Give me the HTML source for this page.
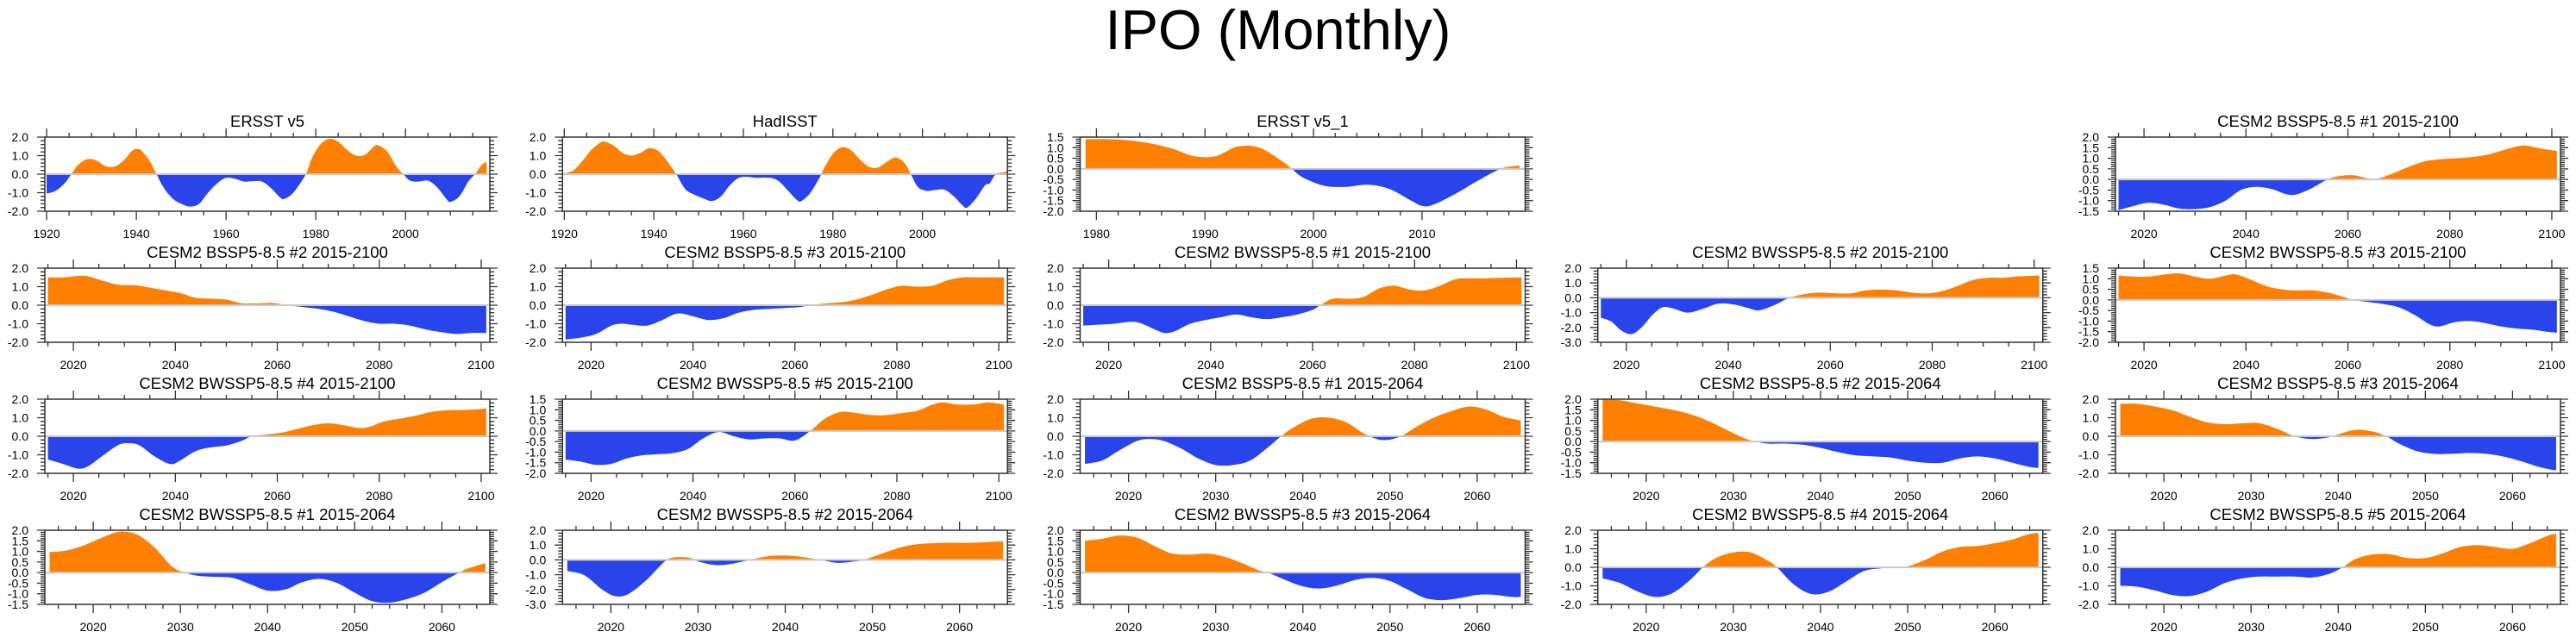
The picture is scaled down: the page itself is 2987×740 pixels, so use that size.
<!DOCTYPE html>
<html><head><meta charset="utf-8">
<style>
html,body{margin:0;padding:0;background:#fff;}
svg{display:block;font-family:"Liberation Sans",Arial,sans-serif;}
</style></head>
<body>
<svg id="chart" width="2987" height="740" viewBox="0 0 2987 740" xmlns="http://www.w3.org/2000/svg">
<rect x="0" y="0" width="2987" height="740" fill="#fff"/>
<text x="1482" y="57" font-size="65" text-anchor="middle" fill="#000">IPO (Monthly)</text>
</svg>
<script>
// ---- data (years / values per panel) ----
const ersstYears=[1920,1922,1924,1925.5,1927,1929,1931,1933,1935,1937,1939,1940,1941,1943,1944.5,1946,1948,1950,1952,1954,1956,1958,1960,1962,1964,1966,1968,1970,1972,1973,1975,1977.8,1979,1981,1983,1985,1987,1989,1991,1993,1994,1996,1998,1999.5,2001,2003,2005,2007,2009,2010,2012,2014,2015.5,2017,2018.1];
const ersstVals=[-1.05,-0.9,-0.5,0,0.5,0.8,0.75,0.45,0.4,0.7,1.25,1.35,1.3,0.7,0,-0.7,-1.3,-1.6,-1.75,-1.6,-1.0,-0.5,-0.2,-0.25,-0.4,-0.38,-0.4,-0.75,-1.25,-1.33,-1.0,0,0.8,1.6,1.9,1.75,1.3,1.0,1.05,1.5,1.55,1.2,0.4,0,-0.35,-0.4,-0.35,-0.7,-1.3,-1.5,-1.2,-0.4,0,0.5,0.65];
const hadYears=[1920,1922,1924,1926,1928,1929,1931,1933,1935,1937,1939,1941,1943,1945,1947,1949,1951,1953,1955,1957,1959,1961,1963,1966,1968,1970,1972,1973,1975,1977,1978,1980,1982,1984,1986,1988,1990,1992,1994,1996,1997.4,1999,2001,2003,2005,2007,2009,2010,2012,2014,2015,2016.4,2018,2019];
const hadVals=[0.05,0.2,0.7,1.3,1.7,1.75,1.55,1.15,1.0,1.15,1.4,1.25,0.7,0,-0.8,-1.1,-1.3,-1.45,-1.2,-0.6,-0.2,-0.15,-0.2,-0.2,-0.4,-0.9,-1.4,-1.45,-1.0,-0.2,0.3,1.1,1.45,1.3,0.8,0.4,0.35,0.65,0.9,0.6,0,-0.7,-0.9,-0.85,-0.85,-1.2,-1.7,-1.8,-1.3,-0.6,-0.5,0,0.1,0.15];
const ersst1Years=[1979,1981,1983,1985,1987,1989,1991,1993,1995,1997,1998,1999,2001,2003,2005,2007,2009,2010,2011,2013,2015,2017,2018,2019];
const ersst1Vals=[1.4,1.4,1.35,1.2,0.95,0.6,0.6,1.05,1.0,0.4,0,-0.4,-0.8,-0.85,-0.75,-0.95,-1.5,-1.75,-1.7,-1.2,-0.6,-0.05,0.1,0.15];

const b1LongYears=[2015,2018,2021,2024,2027,2030,2033,2036,2039,2042,2045,2048,2050,2053,2056,2058,2061,2064,2066,2069,2072,2075,2078,2081,2084,2087,2090,2093,2095,2098,2101];
const b1LongVals=[-1.45,-1.25,-1.1,-1.2,-1.38,-1.4,-1.3,-1.0,-0.5,-0.35,-0.45,-0.7,-0.7,-0.4,0,0.15,0.2,0.05,0.05,0.3,0.6,0.85,0.95,1.0,1.05,1.15,1.35,1.55,1.6,1.45,1.35];
const b2LongYears=[2015,2018,2021,2023,2026,2029,2032,2035,2038,2041,2044,2047,2050,2053,2056,2059,2062,2065,2068,2071,2074,2077,2080,2083,2086,2089,2092,2095,2098,2101];
const b2LongVals=[1.5,1.5,1.58,1.55,1.3,1.1,1.08,0.95,0.8,0.65,0.4,0.35,0.3,0.1,0.1,0.12,0,-0.1,-0.2,-0.35,-0.6,-0.85,-1.0,-1.0,-1.1,-1.3,-1.45,-1.55,-1.5,-1.5];
const b3LongYears=[2015,2018,2021,2024,2026,2028,2031,2034,2037,2040,2043,2046,2049,2052,2055,2058,2061,2063,2066,2069,2072,2075,2078,2081,2084,2087,2090,2093,2096,2099,2101];
const b3LongVals=[-1.85,-1.75,-1.55,-1.1,-1.0,-1.05,-1.1,-0.8,-0.45,-0.6,-0.8,-0.7,-0.4,-0.25,-0.2,-0.15,-0.1,0,0.1,0.15,0.3,0.55,0.85,1.05,1.0,1.05,1.35,1.5,1.5,1.5,1.5];
const w1LongYears=[2015,2018,2021,2024,2026,2029,2031,2033,2036,2039,2042,2045,2048,2051,2054,2057,2060,2061.5,2064,2067,2070,2073,2076,2079,2082,2085,2088,2091,2094,2097,2101];
const w1LongVals=[-1.1,-1.05,-1.0,-0.9,-0.95,-1.3,-1.5,-1.4,-1.0,-0.8,-0.65,-0.5,-0.65,-0.75,-0.65,-0.5,-0.25,0,0.35,0.35,0.45,0.9,1.05,0.85,0.8,1.05,1.4,1.45,1.45,1.48,1.5];
const w2LongYears=[2015,2017,2019,2021,2023,2025,2027,2029,2032,2035,2038,2041,2044,2046,2049,2052,2055,2058,2061,2064,2067,2070,2073,2076,2079,2082,2085,2088,2091,2094,2097,2101];
const w2LongVals=[-1.35,-1.6,-2.2,-2.45,-2.0,-1.2,-0.65,-0.7,-1.0,-0.75,-0.4,-0.45,-0.7,-0.85,-0.5,0,0.25,0.35,0.3,0.3,0.5,0.55,0.5,0.35,0.3,0.45,0.8,1.2,1.35,1.35,1.45,1.5];
const w3LongYears=[2015,2018,2021,2024,2027,2030,2033,2036,2038,2041,2044,2047,2050,2053,2056,2059,2061,2064,2067,2070,2073,2076,2078,2081,2084,2087,2090,2093,2096,2099,2101];
const w3LongVals=[1.15,1.1,1.1,1.2,1.25,1.1,1.0,1.15,1.2,0.95,0.65,0.5,0.45,0.45,0.35,0.15,0,-0.1,-0.2,-0.35,-0.7,-1.15,-1.25,-1.05,-1.0,-1.1,-1.25,-1.35,-1.4,-1.5,-1.55];
const w4LongYears=[2015,2018,2021,2023,2026,2029,2031,2033,2036,2039,2041,2044,2047,2050,2053,2055,2058,2061,2064,2067,2070,2073,2076,2078,2081,2084,2087,2090,2093,2096,2099,2101];
const w4LongVals=[-1.25,-1.5,-1.75,-1.6,-1.0,-0.45,-0.38,-0.5,-1.1,-1.5,-1.3,-0.8,-0.6,-0.5,-0.25,0,0.1,0.2,0.4,0.6,0.7,0.6,0.45,0.5,0.8,0.95,1.1,1.3,1.4,1.42,1.45,1.5];
const w5LongYears=[2015,2018,2021,2024,2027,2030,2033,2036,2039,2042,2045,2048,2051,2054,2057,2060,2063,2066,2069,2072,2075,2078,2081,2084,2087,2089,2092,2095,2098,2101];
const w5LongVals=[-1.35,-1.45,-1.6,-1.55,-1.3,-1.15,-1.1,-1.05,-0.85,-0.35,-0.05,-0.25,-0.4,-0.35,-0.35,-0.45,0,0.6,0.9,0.85,0.75,0.75,0.85,0.95,1.25,1.35,1.25,1.25,1.35,1.25];

const b1ShortYears=[2015,2017,2019,2021,2022.5,2024,2026,2028,2030,2032,2034,2036,2037.5,2039,2041,2043,2045,2047,2049,2051,2053,2055,2057,2059,2061,2063,2065];
const b1ShortVals=[-1.5,-1.3,-0.75,-0.25,-0.15,-0.25,-0.65,-1.2,-1.55,-1.55,-1.3,-0.6,0,0.5,0.95,1.0,0.75,0.15,-0.2,-0.05,0.5,1.0,1.35,1.6,1.45,1.05,0.85];
const b2ShortYears=[2015,2017,2019,2021,2023,2025,2027,2029,2031,2032.5,2034,2036,2038,2040,2042,2044,2046,2048,2050,2052,2054,2056,2058,2060,2062,2064,2065];
const b2ShortVals=[1.98,1.95,1.8,1.65,1.5,1.3,1.0,0.6,0.2,0,-0.1,-0.1,-0.15,-0.3,-0.5,-0.65,-0.7,-0.75,-0.9,-1.0,-1.0,-0.8,-0.7,-0.8,-1.0,-1.2,-1.25];
const b3ShortYears=[2015,2017,2019,2021,2023,2025,2027,2029,2031,2033,2035,2037,2039,2040,2042,2044,2045.5,2047,2049,2051,2053,2055,2057,2059,2061,2063,2065];
const b3ShortVals=[1.75,1.75,1.6,1.4,1.05,0.75,0.65,0.7,0.7,0.4,0,-0.15,-0.05,0.1,0.35,0.25,0,-0.4,-0.8,-0.95,-0.95,-0.9,-0.95,-1.1,-1.35,-1.65,-1.85];
const w1ShortYears=[2015,2017,2019,2021,2023,2025,2027,2029,2030.5,2032,2034,2036,2038,2040,2042,2044,2046,2048,2050,2052,2054,2056,2058,2060,2062,2063,2065];
const w1ShortVals=[0.97,1.05,1.3,1.65,1.93,1.8,1.2,0.3,0,-0.15,-0.2,-0.25,-0.55,-0.85,-0.8,-0.45,-0.3,-0.5,-0.95,-1.35,-1.42,-1.25,-0.95,-0.45,0,0.2,0.45];
const w2ShortYears=[2015,2017,2019,2020.5,2022,2024,2026,2027,2029,2030,2032,2034,2036,2038,2040,2042,2044,2046,2048,2049,2051,2053,2055,2058,2061,2063,2065];
const w2ShortVals=[-0.75,-1.05,-2.0,-2.45,-2.3,-1.4,-0.2,0.15,0.15,-0.1,-0.35,-0.25,0,0.25,0.3,0.2,0,-0.2,-0.1,0,0.4,0.8,1.05,1.15,1.15,1.2,1.25];
const w3ShortYears=[2015,2017,2019,2021,2023,2025,2027,2029,2031,2033,2035,2036,2038,2040,2042,2044,2046,2048,2050,2052,2054,2056,2058,2060,2062,2064,2065];
const w3ShortVals=[1.5,1.6,1.75,1.65,1.25,0.9,0.85,0.9,0.75,0.45,0.1,0,-0.35,-0.65,-0.75,-0.6,-0.35,-0.25,-0.4,-0.8,-1.2,-1.3,-1.2,-1.05,-1.05,-1.15,-1.15];
const w4ShortYears=[2015,2017,2019,2021,2023,2025,2026.5,2028,2030,2032,2034,2035,2037,2039,2041,2043,2045,2047,2048.5,2050,2052,2054,2056,2058,2060,2062,2064,2065];
const w4ShortVals=[-0.6,-0.85,-1.3,-1.6,-1.4,-0.7,0,0.5,0.8,0.8,0.35,0,-0.95,-1.45,-1.3,-0.75,-0.2,-0.05,0,0.05,0.4,0.85,1.1,1.15,1.3,1.5,1.8,1.85];
const w5ShortYears=[2015,2017,2019,2021,2023,2025,2027,2029,2031,2033,2035,2037,2039,2040.5,2042,2044,2046,2048,2050,2052,2054,2056,2058,2060,2062,2064,2065];
const w5ShortVals=[-1.0,-1.05,-1.25,-1.5,-1.55,-1.3,-0.85,-0.6,-0.5,-0.5,-0.5,-0.55,-0.35,0,0.45,0.7,0.7,0.5,0.5,0.75,1.1,1.2,1.1,1.0,1.3,1.7,1.8];

// ---- axis tick definitions ----
const histMajors=[1920,1940,1960,1980,2000];
const satMajors=[1980,1990,2000,2010];
const longMajors=[2020,2040,2060,2080,2100];
const shortMajors=[2020,2030,2040,2050,2060];

const titles=["ERSST v5","HadISST","ERSST v5_1","CESM2 BSSP5-8.5 #1 2015-2100",
"CESM2 BSSP5-8.5 #2 2015-2100","CESM2 BSSP5-8.5 #3 2015-2100","CESM2 BWSSP5-8.5 #1 2015-2100","CESM2 BWSSP5-8.5 #2 2015-2100","CESM2 BWSSP5-8.5 #3 2015-2100",
"CESM2 BWSSP5-8.5 #4 2015-2100","CESM2 BWSSP5-8.5 #5 2015-2100","CESM2 BSSP5-8.5 #1 2015-2064","CESM2 BSSP5-8.5 #2 2015-2064","CESM2 BSSP5-8.5 #3 2015-2064",
"CESM2 BWSSP5-8.5 #1 2015-2064","CESM2 BWSSP5-8.5 #2 2015-2064","CESM2 BWSSP5-8.5 #3 2015-2064","CESM2 BWSSP5-8.5 #4 2015-2064","CESM2 BWSSP5-8.5 #5 2015-2064"];
const panelNames=["ersst-v5","hadisst","ersst-v5-1","bssp-1-long","bssp-2-long","bssp-3-long","bwssp-1-long","bwssp-2-long","bwssp-3-long","bwssp-4-long","bwssp-5-long","bssp-1-short","bssp-2-short","bssp-3-short","bwssp-1-short","bwssp-2-short","bwssp-3-short","bwssp-4-short","bwssp-5-short"];
const seriesYears=[ersstYears,hadYears,ersst1Years,b1LongYears,b2LongYears,b3LongYears,w1LongYears,w2LongYears,w3LongYears,w4LongYears,w5LongYears,b1ShortYears,b2ShortYears,b3ShortYears,w1ShortYears,w2ShortYears,w3ShortYears,w4ShortYears,w5ShortYears];
const seriesVals=[ersstVals,hadVals,ersst1Vals,b1LongVals,b2LongVals,b3LongVals,w1LongVals,w2LongVals,w3LongVals,w4LongVals,w5LongVals,b1ShortVals,b2ShortVals,b3ShortVals,w1ShortVals,w2ShortVals,w3ShortVals,w4ShortVals,w5ShortVals];
const yMins=[-2,-2,-2,-1.5, -2,-2,-2,-3,-2, -2,-2,-2,-1.5,-2, -1.5,-3,-1.5,-2,-2];
const yMaxs=[2,2,1.5,2, 2,2,2,2,1.5, 2,1.5,2,2,2, 2,2,2,2,2];
const ySteps=[1,1,0.5,0.5, 1,1,1,1,0.5, 1,0.5,1,0.5,1, 0.5,1,0.5,1,1];
const kinds=["hist","hist","sat","long","long","long","long","long","long","long","long","short","short","short","short","short","short","short","short"];
const gridPos=[[0,0],[1,0],[2,0],[4,0],[0,1],[1,1],[2,1],[3,1],[4,1],[0,2],[1,2],[2,2],[3,2],[4,2],[0,3],[1,3],[2,3],[3,3],[4,3]];

const NS="http://www.w3.org/2000/svg";
const svg=document.getElementById('chart');
const KIND={
  hist:{x0:1919.6,x1:2019.0,maj:histMajors,minor:5},
  sat:{x0:1978.5,x1:2019.5,maj:satMajors,minor:2},
  long:{x0:2014.4,x1:2101.7,maj:longMajors,minor:5},
  short:{x0:2014.45,x1:2065.5,maj:shortMajors,minor:2}
};
function mk(tag,attrs,parent){const e=document.createElementNS(NS,tag);for(const k in attrs)e.setAttribute(k,attrs[k]);(parent||svg).appendChild(e);return e;}

const W=516,H=86;
for(let p=0;p<titles.length;p++){
  const c=gridPos[p][0], r=gridPos[p][1];
  const L=52+600.25*c, T=159+152*r;
  const k=KIND[kinds[p]];
  const kx=k.x0, kx1=(kinds[p]==="hist"&&p===0)?2018.8:k.x1;
  const lo=yMins[p], hi=yMaxs[p], st=ySteps[p];
  const xs=v=>L+(v-kx)/(kx1-kx)*W;
  const ys=v=>T+(hi-v)/(hi-lo)*H;
  const g=mk('g',{});
  
  
  // title
  const t=mk('text',{x:L+W/2,y:T-12,'font-size':18.5,'text-anchor':'middle',fill:'#000'},g);
  t.textContent=titles[p];
  
  
  // area
  const yr=seriesYears[p], vv=seriesVals[p];
  const pts=yr.map((y,i)=>[xs(y),ys(vv[i])]);
  const y0=ys(0);
  let d='M'+pts[0][0].toFixed(2)+','+y0.toFixed(2)+' L'+pts[0][0].toFixed(2)+','+pts[0][1].toFixed(2);
  for(let i=0;i<pts.length-1;i++){
    const p0=pts[Math.max(0,i-1)],p1=pts[i],p2=pts[i+1],p3=pts[Math.min(pts.length-1,i+2)];
    const c1x=p1[0]+(p2[0]-p0[0])/6,c1y=p1[1]+(p2[1]-p0[1])/6;
    const c2x=p2[0]-(p3[0]-p1[0])/6,c2y=p2[1]-(p3[1]-p1[1])/6;
    d+=' C'+c1x.toFixed(2)+','+c1y.toFixed(2)+' '+c2x.toFixed(2)+','+c2y.toFixed(2)+' '+p2[0].toFixed(2)+','+p2[1].toFixed(2);
  }
  d+=' L'+pts[pts.length-1][0].toFixed(2)+','+y0.toFixed(2)+' Z';
  const defs=mk('defs',{},g);
  const cpA=mk('clipPath',{id:'ca'+p},defs);mk('rect',{x:L,y:T,width:W,height:y0-T},cpA);
  const cpB=mk('clipPath',{id:'cb'+p},defs);mk('rect',{x:L,y:y0,width:W,height:T+H-y0},cpB);
  const pos=mk('path',{d:d,fill:'#ff8000','clip-path':'url(#ca'+p+')'},g);
  
  
  const neg=mk('path',{d:d,fill:'#2a44ec','clip-path':'url(#cb'+p+')'},g);
  
  
  // zero line
  const zl=mk('line',{x1:L,x2:L+W,y1:y0,y2:y0,stroke:'#c8c8c8','stroke-width':2},g);
  
  
  // frame
  const fr=mk('rect',{x:L,y:T,width:W,height:H,fill:'none',stroke:'#333','stroke-width':1.5},g);
  
  
  // y ticks
  const ny=Math.round((hi-lo)/(st/5));
  let tk='';
  for(let i=0;i<=ny;i++){
    const v=lo+i*st/5, y=ys(v), major=(i%5===0), len=major?9:5;
    tk+='M'+(L-len)+','+y.toFixed(2)+'H'+L+' M'+(L+W)+','+y.toFixed(2)+'H'+(L+W+len)+' ';
    if(major){
      const lb=mk('text',{x:L-19,y:y+5,'font-size':14,'text-anchor':'end',fill:'#000'},g);
      lb.textContent=v.toFixed(1).replace('-0.0','0.0');
      
      
    }
  }
  // x ticks
  const firstMinor=Math.ceil(kx/k.minor)*k.minor;
  for(let v=firstMinor;v<=kx1;v+=k.minor){
    const x=xs(v), len=k.maj.includes(v)?10:5;
    tk+='M'+x.toFixed(2)+','+(T-len)+'V'+T+' M'+x.toFixed(2)+','+(T+H)+'V'+(T+H+len)+' ';
  }
  const tp=mk('path',{d:tk,stroke:'#333','stroke-width':1.3,fill:'none'},g);
  
  
  k.maj.forEach(v=>{
    const lb=mk('text',{x:xs(v),y:T+H+31,'font-size':14,'text-anchor':'middle',fill:'#000'},g);
    lb.textContent=String(v);
    
    
  });
}
</script>
</body></html>
